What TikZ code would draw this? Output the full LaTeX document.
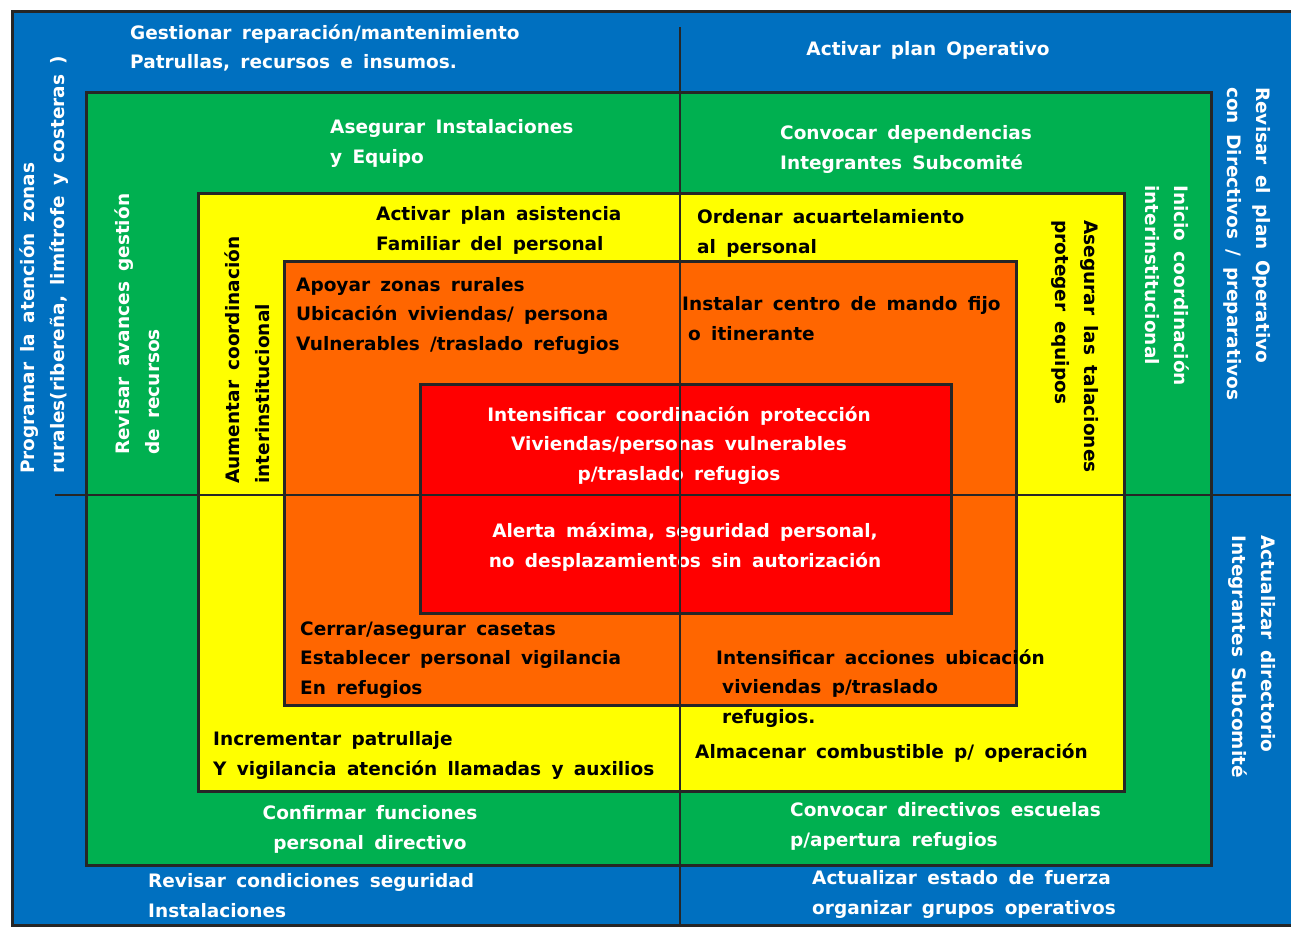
\documentclass[tikz,border=0pt]{standalone}
\usepackage{fontspec}
\setmainfont[WordSpace=1.6]{DejaVu Sans}
\definecolor{cblue}{HTML}{0070C0}
\definecolor{cgreen}{HTML}{00B050}
\definecolor{cyellow}{HTML}{FFFF00}
\definecolor{corange}{HTML}{FF6600}
\definecolor{cred}{HTML}{FF0000}
\definecolor{cborder}{HTML}{262626}
\begin{document}
\begin{tikzpicture}[x=1pt,y=-1pt,
  zone/.style={draw=cborder,line width=3pt},
  divider/.style={draw=cborder,line width=2pt},
  lbl/.style={inner sep=0pt,font=\bfseries\fontsize{18.5}{29.5}\selectfont,align=left,anchor=base west},
  clbl/.style={lbl,align=center,anchor=base},
  wt/.style={text=white},
  bk/.style={text=black},
  up/.style={rotate=90,anchor=base west},
  down/.style={rotate=-90,anchor=base west}]
\useasboundingbox[fill=white] (0,0) rectangle (1291,930);
% zones
\path[zone,fill=cblue] (12,11.5) rectangle (1300,925);
\path[zone,fill=cgreen] (86.5,92) rectangle (1211.5,865.5);
\path[zone,fill=cyellow] (198.5,193.5) rectangle (1124.5,791.5);
\path[zone,fill=corange] (284.5,261.5) rectangle (1016.5,705);
\path[zone,fill=cred] (420,384) rectangle (951,613.5);
% blue
\node[lbl,wt] (b1) at (130,68.5) {Gestionar reparación/mantenimiento\\Patrullas, recursos e insumos.};
\node[clbl,wt] (b2) at (928,55) {Activar plan Operativo};
\node[lbl,wt] (b3) at (148,917) {Revisar condiciones seguridad\\Instalaciones};
\node[lbl,wt] (b4) at (812,914) {Actualizar estado de fuerza\\organizar grupos operativos};
\node[lbl,wt,up] (b5) at (64,474) {Programar la atención zonas\\rurales(ribereña, limítrofe y costeras )};
\node[lbl,wt,down] (b6) at (1227,87) {Revisar el plan Operativo\\con Directivos / preparativos};
\node[lbl,wt,down] (b7) at (1232,535) {Actualizar directorio\\Integrantes Subcomité};
% green
\node[lbl,wt] (g1) at (330,163) {Asegurar Instalaciones\\y Equipo};
\node[lbl,wt] (g2) at (780,169) {Convocar dependencias\\Integrantes Subcomité};
\node[clbl,wt] (g3) at (370,849) {Confirmar funciones\\personal directivo};
\node[lbl,wt] (g4) at (790,846) {Convocar directivos escuelas\\p/apertura refugios};
\node[lbl,wt,up] (g5) at (159,455) {Revisar avances gestión\\de recursos};
\node[lbl,wt,down] (g6) at (1145,185) {Inicio coordinación\\interinstitucional};
% yellow
\node[lbl,bk] (y1) at (376,250) {Activar plan asistencia\\Familiar del personal};
\node[lbl,bk] (y2) at (697,253) {Ordenar acuartelamiento\\al personal};
\node[lbl,bk] (y3) at (213,775) {Incrementar patrullaje\\Y vigilancia atención llamadas y auxilios};
\node[lbl,bk] (y4) at (695,758) {Almacenar combustible p/ operación};
\node[lbl,bk,up] (y5) at (269,484) {Aumentar coordinación\\interinstitucional};
\node[lbl,bk,down] (y6) at (1055,220) {Asegurar las talaciones\\proteger equipos};
% orange
\node[lbl,bk] (o1) at (296,350) {Apoyar zonas rurales\\Ubicación viviendas/ persona\\Vulnerables /traslado refugios};
\node[lbl,bk] (o2) at (682,340) {Instalar centro de mando fijo\\\hspace*{6pt}o itinerante};
\node[lbl,bk] (o3) at (300,694) {Cerrar/asegurar casetas\\Establecer personal vigilancia\\En refugios};
\node[lbl,bk] (o4) at (716,723) {Intensificar acciones ubicación\\\hspace*{6pt}viviendas p/traslado\\\hspace*{6pt}refugios.};
% red
\node[clbl,wt] (r1) at (679,480) {Intensificar coordinación protección\\Viviendas/personas vulnerables\\p/traslado refugios};
\node[clbl,wt] (r2) at (685,567) {Alerta máxima, seguridad personal,\\no desplazamientos sin autorización};
% dividers
\coordinate (vt) at (680,27);
\coordinate (vb) at (680,925);
\coordinate (hl) at (55,494.5);
\coordinate (hr) at (1291,494.5);
\draw[divider] (vt) -- (vb);
\draw[divider] (hl) -- (hr);
\end{tikzpicture}
\end{document}
